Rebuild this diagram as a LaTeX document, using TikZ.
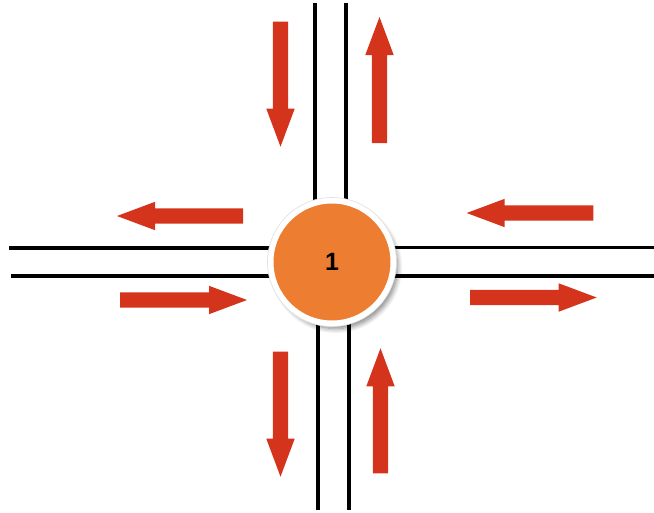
\documentclass[tikz,border=0pt]{standalone}
\usepackage{fontspec}
\setmainfont{Liberation Sans}
\usetikzlibrary{shadows.blur}
\definecolor{arrowred}{RGB}{212,52,28}
\definecolor{roundorange}{RGB}{237,125,49}
\tikzset{
  road/.style={line width=3.8pt, black},
  barrow/.pic={
    \fill[arrowred] (0,-7.7) -- ({#1-38},-7.7) -- ({#1-38},-14.2) -- (#1,0)
      -- ({#1-38},14.2) -- ({#1-38},7.7) -- (0,7.7) -- cycle;
  },
  roundabout/.style={circle, minimum size=123pt, inner sep=0pt,
    fill=roundorange, draw=white, line width=6pt,
    blur shadow={shadow xshift=4pt, shadow yshift=-5pt, shadow blur steps=8, shadow blur radius=5pt, shadow opacity=50}}
}
\begin{document}
\begin{tikzpicture}[x=1pt, y=-1pt]
\useasboundingbox (0,0) rectangle (654,512);
% roads
\draw[road] (315,3) -- (315,262);
\draw[road] (346,3) -- (346,262);
\draw[road] (318,262) -- (318,510);
\draw[road] (349,262) -- (349,510);
\draw[road] (9,248) -- (332,248);
\draw[road] (11,276) -- (332,276);
\draw[road] (332,247.5) -- (654,247.5);
\draw[road] (332,276) -- (654,276);
% roundabout
\node[roundabout] (c) at (332,262) {\fontsize{25}{27}\selectfont\bfseries 1};
\draw[gray!25, line width=0.6pt] (c.center) circle (64.5pt);
% arrows
\pic[rotate=-90] at (280.5,21.7) {barrow=125};
\pic[rotate=90] at (379.5,143) {barrow=126};
\pic[rotate=-90] at (280.5,351.7) {barrow=125};
\pic[rotate=90] at (380.5,473.3) {barrow=125};
\pic[rotate=180] at (243,216) {barrow=126};
\pic at (120,300) {barrow=127};
\pic[rotate=180] at (593.3,213) {barrow=126.6};
\pic at (470,297.5) {barrow=126.7};
\end{tikzpicture}
\end{document}
